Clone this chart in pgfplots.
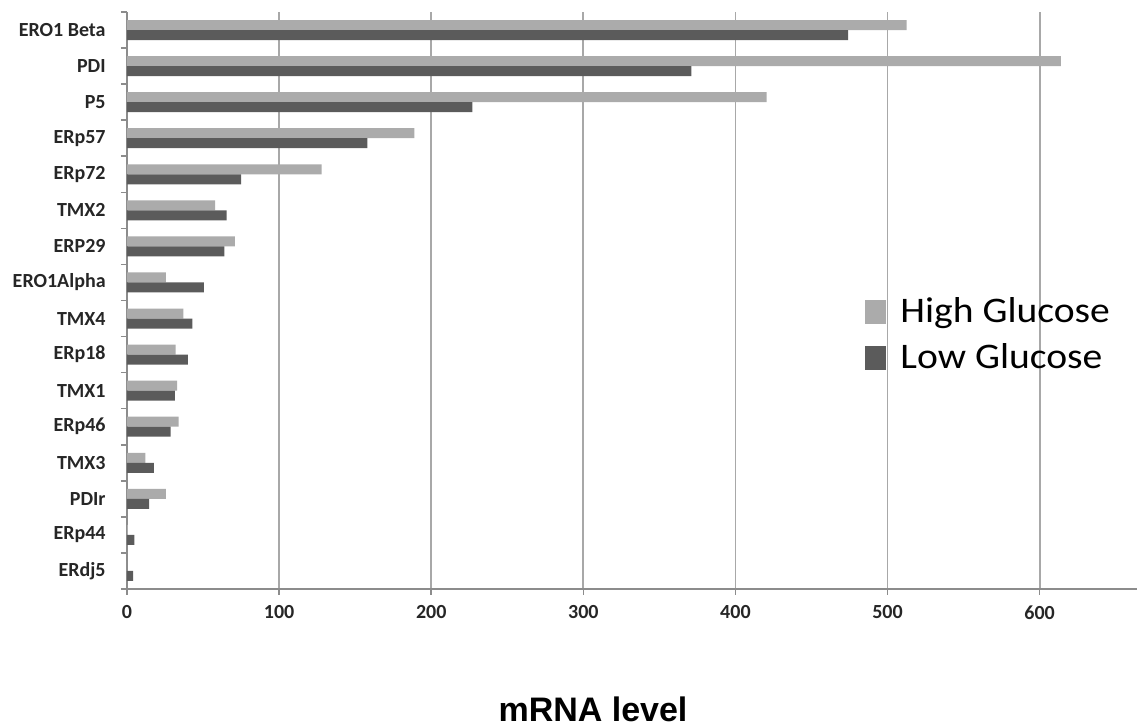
\documentclass[border=0pt]{standalone}
\usepackage{fontspec}
\setmainfont{Carlito}
\newfontfamily\legendfont[FakeStretch=1.1]{Carlito}
\newfontfamily\labelfont{Liberation Sans}
\usepackage{pgfplots}
\pgfplotsset{compat=1.18}

\definecolor{highg}{HTML}{ABABAB}
\definecolor{lowg}{HTML}{5B5B5B}
\definecolor{gridg}{HTML}{A8A8A8}
\definecolor{axisg}{HTML}{8C8C8C}

\begin{document}
\begin{tikzpicture}
\begin{axis}[
  name=ax,
  xbar,
  scale only axis,
  width=505pt, height=288.5pt,
  xmin=0, xmax=664,
  ymin=-0.5, ymax=15.5,
  clip=false,
  axis x line*=bottom,
  axis y line*=left,
  axis line style={axisg, line width=0.8pt},
  bar width=5pt,
  xtick={0,100,...,600},
  xmajorgrids,
  grid style={gridg, line width=0.9pt},
  ytick={0,...,15},
  yticklabels={ERdj5,ERp44,PDIr,TMX3,ERp46,TMX1,ERp18,TMX4,ERO1Alpha,ERP29,TMX2,ERp72,ERp57,P5,PDI,ERO1 Beta},
  minor ytick={-0.5,0.5,...,15.5},
  tick align=outside,
  major tick length=3pt,
  minor tick length=3pt,
  major y tick style={draw=none},
  minor y tick style={axisg, line width=0.8pt},
  major x tick style={axisg, line width=0.8pt},
  /pgf/number format/assume math mode=true,
  ticklabel style={font=\bfseries\fontsize{10}{12}\selectfont, text=black!85},
  yticklabel style={inner sep=0pt, xshift=-7.5pt},
  xticklabel style={inner sep=0pt, yshift=-5pt},
  legend style={
    at={(rel axis cs:0.7307,0.5113)}, anchor=north west,
    draw=none, fill=none, inner sep=0pt,
    font=\legendfont\fontsize{18}{22}\selectfont,
    nodes={inner sep=0pt, text height=14pt, text depth=9pt},
    row sep=0pt,
    /tikz/every odd column/.append style={column sep=7pt},
    legend cell align=left,
  },
  legend image code/.code={\fill[#1] (0pt,-3.5pt) rectangle (10.5pt,8.5pt);},
]
% High glucose (upper bar of each pair)
\addplot[fill=highg, draw=none, bar shift=2.5pt] coordinates {
  (0,0) (0.5,1) (25.6,2) (12,3) (34,4) (33,5) (32,6) (37,7)
  (25.5,8) (71,9) (58,10) (128,11) (189,12) (420.5,13) (614,14) (512.5,15)
};
% Low glucose (lower bar of each pair)
\addplot[fill=lowg, draw=none, bar shift=-2.5pt] coordinates {
  (4,0) (4.8,1) (14.6,2) (17.7,3) (28.6,4) (31.5,5) (40,6) (43,7)
  (50.6,8) (64,9) (65.5,10) (75,11) (158,12) (227,13) (371,14) (474,15)
};
\legend{High Glucose, Low Glucose}
\end{axis}
\node[anchor=base, inner sep=0pt, font=\labelfont\bfseries\fontsize{17}{20}\selectfont]
  at ([xshift=233pt, yshift=-66.5pt]ax.south west) {mRNA level};
\pgfresetboundingbox
\path[use as bounding box]
  ([xshift=-63.5pt, yshift=-69pt]ax.south west) rectangle
  ([xshift=3.5pt, yshift=6pt]ax.north east);
\end{tikzpicture}
\end{document}
